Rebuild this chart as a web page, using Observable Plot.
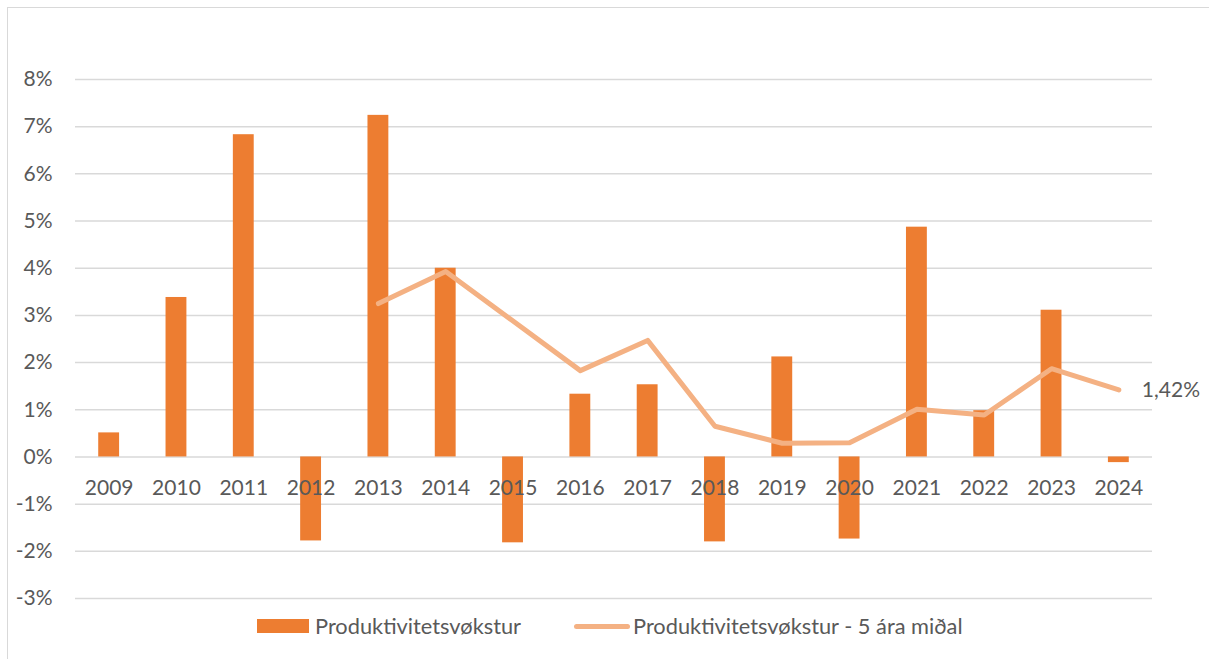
<!DOCTYPE html>
<html>
<head>
<meta charset="utf-8">
<script src="https://cdn.jsdelivr.net/npm/d3@7"></script>
<script src="https://cdn.jsdelivr.net/npm/@observablehq/plot@0.6"></script>
<style>
  html, body { margin: 0; padding: 0; background: #fff; }
  #wrap { position: relative; width: 1209px; height: 659px; overflow: hidden; }
  #frame { position: absolute; left: 7px; top: 7px; width: 1220px; height: 700px; border: 1.5px solid #d9d9d9; box-sizing: border-box; }
  #chart { position: absolute; left: 0; top: 0; }
  #legend { position: absolute; left: 0; top: 612px; width: 1209px; height: 30px; font-family: Lato, sans-serif; font-size: 21.8px; color: #595959; }
  .sw-bar { position: absolute; left: 257px; top: 7px; width: 52px; height: 13.5px; background: #ED7D31; }
  .sw-line { position: absolute; left: 574px; top: 11.5px; width: 56px; height: 5px; border-radius: 3px; background: #F4B183; }
  .lab { position: absolute; top: 0px; white-space: nowrap; }
</style>
</head>
<body>
<div id="wrap">
  <div id="frame"></div>
  <div id="chart"></div>
  <div id="legend"></div>
</div>
<script>
const years = ["2009","2010","2011","2012","2013","2014","2015","2016","2017","2018","2019","2020","2021","2022","2023","2024"];
const growth = [0.51, 3.38, 6.83, -1.78, 7.24, 4.00, -1.82, 1.33, 1.53, -1.80, 2.12, -1.74, 4.87, 0.98, 3.11, -0.12];
const avgYears = ["2013","2014","2015","2016","2017","2018","2019","2020","2021","2022","2023","2024"];
const avg5 = [3.25, 3.93, 2.88, 1.83, 2.47, 0.65, 0.29, 0.30, 1.01, 0.89, 1.87, 1.42];
const yTicks = [-3, -2, -1, 0, 1, 2, 3, 4, 5, 6, 7, 8];
const seriesNames = ["Produktivitetsvøkstur", "Produktivitetsvøkstur - 5 ára miðal"];
const lastLabel = "1,42%";

const barData = years.map((y, i) => ({year: y, value: growth[i]}));
const lineData = avgYears.map((y, i) => ({year: y, value: avg5[i]}));

const textColor = "#595959";
const font = "Lato, sans-serif";

const chart = Plot.plot({
  width: 1209,
  height: 612,
  marginLeft: 75,
  marginRight: 57,
  marginTop: 79,
  marginBottom: 14,
  style: {fontFamily: font, fontSize: "21px", color: textColor, background: "transparent"},
  x: {type: "band", domain: years, paddingInner: 0.69, paddingOuter: 0.345, round: false, axis: null},
  y: {domain: [-3, 8], axis: null},
  marks: [
    Plot.ruleY(yTicks, {stroke: "#d9d9d9", strokeWidth: 1.5}),
    Plot.text(yTicks, {y: d => d, text: d => `${d}%`, frameAnchor: "left", textAnchor: "end", dx: -23, fill: textColor}),
    Plot.barY(barData, {x: "year", y: "value", fill: "#ED7D31"}),
    Plot.lineY(lineData, {x: "year", y: "value", stroke: "#F4B183", strokeWidth: 5, strokeLinecap: "round", strokeLinejoin: "round"}),
    Plot.text(years, {x: d => d, y: () => 0, dy: 31, text: d => d, fill: textColor}),
    Plot.text([lineData[lineData.length - 1]], {x: "year", y: "value", text: () => lastLabel, textAnchor: "start", dx: 23, fill: textColor})
  ]
});
document.getElementById("chart").appendChild(chart);

const legend = document.getElementById("legend");
legend.innerHTML = `
  <div class="sw-bar"></div><div class="lab" style="left:315px">${seriesNames[0]}</div>
  <div class="sw-line"></div><div class="lab" style="left:633px">${seriesNames[1]}</div>`;
</script>
</body>
</html>
